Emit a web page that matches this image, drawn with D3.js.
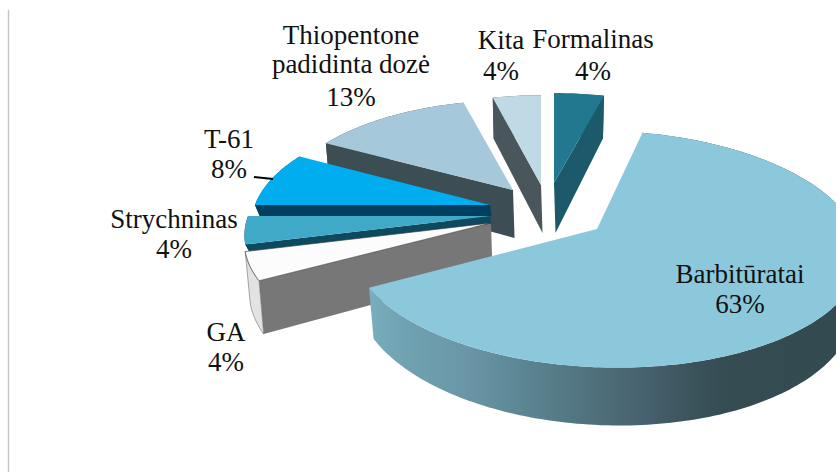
<!DOCTYPE html>
<html><head><meta charset="utf-8">
<script src="https://cdn.jsdelivr.net/npm/d3@7"></script>
<style>html,body{margin:0;padding:0;background:#fff;overflow:hidden}svg{display:block}
text{font-family:"Liberation Serif","Times New Roman",serif;font-size:27px;fill:#111;text-anchor:middle}</style>
</head><body><svg id="c" width="836" height="472"></svg>
<script>
// Data, clockwise from 12 o'clock
const categories = ["Formalinas","Barbitūratai","GA","Strychninas","T-61","Thiopentone padidinta dozė","Kita"];
const shares = [4,63,4,4,8,13,4];
const topColors = ["#21788f","#8cc8dc","#fcfcfc","#41a9c8","#00aeef","#a5c8da","#bfdae5"];
const wallColors = ["#1c5a6b","#4f7482","#777777","#0d4a60","#003f5f","#3d4d54","#49565c"];
// projection per slice: apex x/y, half-axes, shear, lateral perspective, thickness
const apexX = [554,597,491,490,490,513,541];
const apexY = [183,229,223,216,205,190,185];
const axisX = [234,250.6,243,242,235,231,226];
const axisY = [105,115,110,110,109,105,105];
const shear = [0,10,0,0,0,0,0];
const lateral = [0,0.0274,0,0,0,0,0];
const depth = [50,48,49,8,11,48,48];
const labelLines = [["Formalinas","4%"],["Barbitūratai","63%"],["GA","4%"],["Strychninas","4%"],["T-61","8%"],["Thiopentone","padidinta dozė","13%"],["Kita","4%"]];
const labelX = [593,740,226,174,229,351,501];
const labelY = [[48,80],[283,313],[341,371],[228,258],[148,178],[44,73,106],[49,80]];
const drawOrder = [6,0,5,4,3,2,1];
const persp = 0.17, bottomScale = 0.98;

const svg = d3.select("#c");
svg.append("line").attr("x1",8.5).attr("x2",8.5).attr("y1",10).attr("y2",472).attr("stroke","#c4c4c4").attr("stroke-width",1.4);

const grad = svg.append("defs").append("linearGradient").attr("id","barbWall").attr("gradientUnits","userSpaceOnUse")
  .attr("x1",369).attr("x2",836).attr("y1",0).attr("y2",0);
[[0,"#78aebd"],[.08,"#6fa2b2"],[.2,"#6b97a8"],[.34,"#5b8491"],[.48,"#50707c"],[.6,"#45606c"],[.7,"#3a525a"],[.76,"#354c52"],[1,"#324a50"]]
  .forEach(s=>grad.append("stop").attr("offset",s[0]).attr("stop-color",s[1]));

const arcs = d3.pie().sort(null).startAngle(0).endAngle(2*Math.PI)(shares);
const line = d3.line().curve(d3.curveLinear);

function project(i,t,down){
  const X=Math.sin(t), Y=-Math.cos(t), den=1-persp*Y-lateral[i]*X;
  const k = down?bottomScale:1;
  const dy = down? depth[i]/den : 0;
  return [apexX[i]+k*(axisX[i]*X+shear[i]*Y)/den, apexY[i]+axisY[i]*Y/den+dy];
}
function apex(i,down){return [apexX[i]+(down?1.5:0), apexY[i]+(down?depth[i]:0)];}
function rim(i,a,b,down){
  const n=Math.max(2,Math.ceil((b-a)/0.02));
  return d3.range(n+1).map(j=>project(i,a+(b-a)*j/n,down));
}
drawOrder.forEach(i=>{
  const a=arcs[i].startAngle, b=arcs[i].endAngle;
  const g=svg.append("g").attr("class","slice");
  const wallFill = i===1?"url(#barbWall)":wallColors[i];
  if(i!==1){
    const edge = i===0 ? b : a;
    g.append("path").attr("d",line([apex(i,false),project(i,edge,false),project(i,edge,true),apex(i,true)])+"Z").attr("fill",wallColors[i]);
  }
  const top=rim(i,a,b,false), bot=rim(i,a,b,true).reverse();
  g.append("path").attr("d",line(top.concat(bot))+"Z").attr("fill",i===2?"#e2e2e2":wallFill)
    .attr("stroke",i===2?"#555":"none").attr("stroke-width",i===2?0.5:0);
  g.append("path").attr("d",line([apex(i,false)].concat(top))+"Z").attr("fill",topColors[i])
    .attr("stroke",i===2?"#333":"none").attr("stroke-width",i===2?0.6:0);
});

// leader line for T-61
const leadStart=[254,177], leadEnd=[273,179];
svg.append("path").attr("d",line([leadStart,leadEnd])).attr("stroke","#000").attr("stroke-width",2).attr("fill","none");

labelLines.forEach((ls,i)=>{
  const t=svg.append("text").attr("class","lbl");
  ls.forEach((s,j)=>{
    t.append("tspan").attr("x",labelX[i]).attr("y",labelY[i][j]).text(s);
  });
});
</script></body></html>
